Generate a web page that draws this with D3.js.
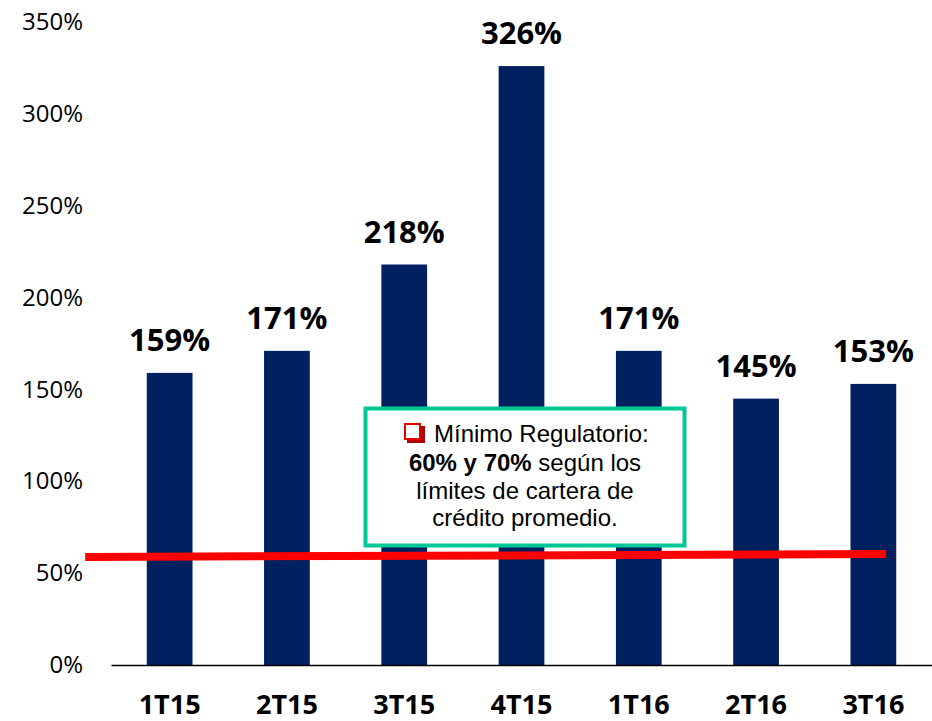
<!DOCTYPE html>
<html lang="es">
<head>
<meta charset="UTF-8">
<title>Liquidez</title>
<style>
  body { margin: 0; background: #fff; }
  svg { display: block; }
</style>
</head>
<body>
<div id="chart"></div>
<script src="https://d3js.org/d3.v7.min.js"></script>
<script>
// data
var quarters = ["1T15", "2T15", "3T15", "4T15", "1T16", "2T16", "3T16"];
var values = [159, 171, 218, 326, 171, 145, 153];
var yTicks = [0, 50, 100, 150, 200, 250, 300, 350];
// regulatory line: ends given in category-index units and % value
var regIdx = [-0.72, 6.11];
var regVal = [58.8, 60.4];
var noteLines = ["Mínimo Regulatorio:", "según los", "límites de cartera de", "crédito promedio."];

var W = 932, H = 721;
var svg = d3.select("#chart").append("svg")
    .attr("width", W).attr("height", H);

var x = d3.scaleBand()
    .domain(quarters)
    .range([111, 932])
    .paddingInner(0.61)
    .paddingOuter(0.305);

var y = d3.scaleLinear()
    .domain([0, 350])
    .range([665, 22]);

// index -> pixel, for the red line
var xi = d3.scaleLinear()
    .domain([0, quarters.length - 1])
    .range([x(quarters[0]) + x.bandwidth() / 2, x(quarters[quarters.length - 1]) + x.bandwidth() / 2]);

// y axis labels only
var yAxis = svg.append("g")
    .attr("transform", "translate(89,0)")
    .call(d3.axisLeft(y).tickValues(yTicks).tickSize(0).tickPadding(6).tickFormat(function(d) { return d + "%"; }));
yAxis.select(".domain").remove();
yAxis.selectAll("text")
    .style("font-family", "'Open Sans', sans-serif")
    .style("font-size", "24px")
    .attr("fill", "#000");

// bars
svg.selectAll("rect.bar")
    .data(values)
    .enter()
    .append("rect")
    .attr("class", "bar")
    .attr("x", function(d, i) { return x(quarters[i]); })
    .attr("y", function(d) { return y(d); })
    .attr("width", x.bandwidth())
    .attr("height", function(d) { return y(0) - y(d); })
    .attr("fill", "#002060");

// value labels
svg.selectAll("text.val")
    .data(values)
    .enter()
    .append("text")
    .attr("class", "val")
    .attr("x", function(d, i) { return x(quarters[i]) + x.bandwidth() / 2; })
    .attr("y", function(d) { return y(d) - 22; })
    .attr("text-anchor", "middle")
    .style("font-family", "'Open Sans', sans-serif")
    .style("font-weight", "bold")
    .style("font-size", "31px")
    .text(function(d) { return d + "%"; });

// x axis
var xAxis = svg.append("g")
    .attr("transform", "translate(0,665)")
    .call(d3.axisBottom(x).tickSize(0).tickPadding(30));
xAxis.select(".domain")
    .attr("stroke", "#000")
    .attr("stroke-width", 1.5);
xAxis.selectAll("text")
    .style("font-family", "'Open Sans', sans-serif")
    .style("font-weight", "bold")
    .style("font-size", "27px")
    .attr("fill", "#000");

// red regulatory line
svg.append("line")
    .attr("x1", xi(regIdx[0])).attr("y1", y(regVal[0]))
    .attr("x2", xi(regIdx[1])).attr("y2", y(regVal[1]))
    .attr("stroke", "#ff0000")
    .attr("stroke-width", 8);

// note box
var box = svg.append("g");
box.append("rect")
    .attr("x", 365.5).attr("y", 408.5)
    .attr("width", 319).attr("height", 137)
    .attr("fill", "#fff")
    .attr("stroke", "#00c896")
    .attr("stroke-width", 4);

// little red checkbox icon
box.append("rect")
    .attr("x", 407).attr("y", 426)
    .attr("width", 18).attr("height", 17)
    .attr("fill", "#b00000");
box.append("rect")
    .attr("x", 405).attr("y", 424)
    .attr("width", 15).attr("height", 15)
    .attr("fill", "#fff")
    .attr("stroke", "#e00000")
    .attr("stroke-width", 2);

var tf = "'Liberation Sans', Arial, sans-serif";
box.append("text")
    .attr("x", 434).attr("y", 442)
    .style("font-family", tf).style("font-size", "24px")
    .text(noteLines[0]);

var t2 = box.append("text")
    .attr("x", 525).attr("y", 471)
    .attr("text-anchor", "middle")
    .style("font-family", tf).style("font-size", "24px");
t2.append("tspan").style("font-weight", "bold").text("60% y 70%");
t2.append("tspan").text(" " + noteLines[1]);

box.append("text")
    .attr("x", 525).attr("y", 499)
    .attr("text-anchor", "middle")
    .style("font-family", tf).style("font-size", "24px")
    .text(noteLines[2]);
box.append("text")
    .attr("x", 525).attr("y", 526)
    .attr("text-anchor", "middle")
    .style("font-family", tf).style("font-size", "24px")
    .text(noteLines[3]);
</script>
</body>
</html>
